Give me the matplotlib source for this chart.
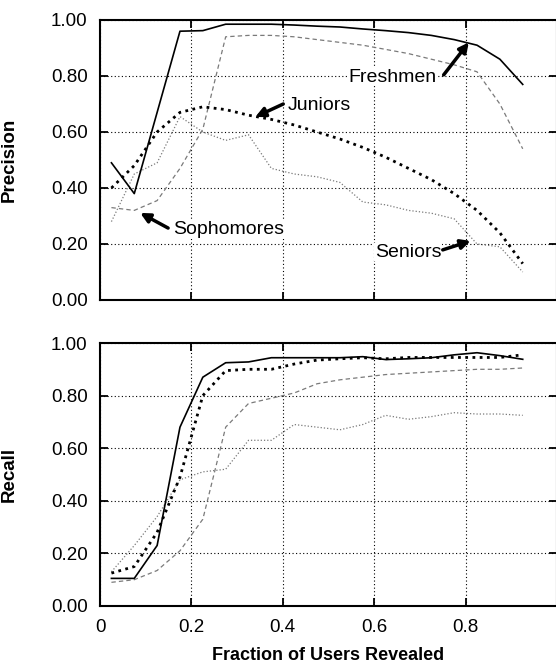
import matplotlib
matplotlib.use("Agg")
import matplotlib.pyplot as plt

plt.rcParams['font.family'] = ['Liberation Sans', 'DejaVu Sans']

# fraction of users revealed (sample points)
frac = [0.025, 0.075, 0.125, 0.175, 0.225, 0.275, 0.325, 0.375, 0.425, 0.475,
        0.525, 0.575, 0.625, 0.675, 0.725, 0.775, 0.825, 0.875, 0.925]

# precision
prec_fresh = [0.49, 0.38, 0.67, 0.96, 0.962, 0.985, 0.985, 0.985, 0.982, 0.978,
              0.975, 0.968, 0.962, 0.955, 0.945, 0.93, 0.91, 0.86, 0.77]
prec_soph = [0.33, 0.32, 0.355, 0.47, 0.61, 0.94, 0.945, 0.945, 0.94, 0.93,
             0.92, 0.91, 0.895, 0.88, 0.86, 0.84, 0.815, 0.70, 0.54]
prec_jun = [0.40, 0.48, 0.60, 0.67, 0.69, 0.68, 0.66, 0.645, 0.625, 0.60,
            0.575, 0.545, 0.51, 0.47, 0.43, 0.38, 0.32, 0.24, 0.13]
prec_sen = [0.28, 0.45, 0.49, 0.655, 0.60, 0.57, 0.59, 0.47, 0.45, 0.44,
            0.42, 0.35, 0.34, 0.32, 0.31, 0.29, 0.20, 0.19, 0.10]

# recall
rec_fresh = [0.105, 0.105, 0.23, 0.68, 0.87, 0.925, 0.928, 0.944, 0.944, 0.944,
             0.944, 0.948, 0.937, 0.94, 0.944, 0.955, 0.963, 0.952, 0.938]
rec_soph = [0.09, 0.10, 0.135, 0.21, 0.33, 0.68, 0.77, 0.79, 0.81, 0.845,
            0.86, 0.87, 0.88, 0.885, 0.89, 0.895, 0.90, 0.90, 0.905]
rec_jun = [0.125, 0.15, 0.28, 0.49, 0.80, 0.895, 0.90, 0.90, 0.92, 0.935,
           0.94, 0.944, 0.94, 0.945, 0.945, 0.945, 0.945, 0.945, 0.955]
rec_sen = [0.13, 0.23, 0.34, 0.48, 0.51, 0.52, 0.63, 0.63, 0.69, 0.68,
           0.67, 0.69, 0.725, 0.71, 0.72, 0.735, 0.73, 0.73, 0.725]

xticks = [0, 0.2, 0.4, 0.6, 0.8]
xticklabels = ['0', '0.2', '0.4', '0.6', '0.8']
yticks = [0, 0.2, 0.4, 0.6, 0.8, 1.0]

W, H = 556, 665
fig = plt.figure(figsize=(W / 100, H / 100), dpi=100)
ax1 = fig.add_axes([100 / W, (H - 300) / H, 457 / W, 280 / H])
ax2 = fig.add_axes([100 / W, (H - 606) / H, 457 / W, 263 / H])

gray = '#7a7a7a'

def style(ax):
    ax.set_xlim(0, 1)
    ax.set_ylim(0, 1)
    ax.set_xticks(xticks)
    ax.set_yticks(yticks)
    ax.set_yticklabels(['%.2f' % v for v in yticks])
    ax.grid(True, color='k', linestyle=(0, (1, 2.2)), linewidth=0.8)
    ax.tick_params(direction='in', length=6, width=1.3, top=True, right=True,
                   labelsize=13.5, pad=9)
    for s in ax.spines.values():
        s.set_linewidth(1.5)

def draw(ax, fr, so, ju, se):
    ax.plot(frac, se, color=gray, lw=0.9, linestyle=(0, (1, 1.6)))
    ax.plot(frac, so, color=gray, lw=0.9, linestyle=(0, (3.5, 2.5)))
    ax.plot(frac, ju, color='k', lw=2.0, linestyle=(0, (1, 1.6)))
    ax.plot(frac, fr, color='k', lw=1.2)

draw(ax1, prec_fresh, prec_soph, prec_jun, prec_sen)
draw(ax2, rec_fresh, rec_soph, rec_jun, rec_sen)
style(ax1)
style(ax2)
ax1.set_xticklabels([])
ax2.set_xticklabels(xticklabels)

ax1.set_ylabel('Precision', fontsize=13.5, fontweight='bold', labelpad=10)
ax2.set_ylabel('Recall', fontsize=13.5, fontweight='bold', labelpad=10)
ax2.set_xlabel('Fraction of Users Revealed', fontsize=13, fontweight='bold', labelpad=8)
ax1.yaxis.set_label_coords(-82 / 457, 0.5)
ax2.yaxis.set_label_coords(-82 / 457, 0.5)

# labels with arrows
notes = [
    ('Freshmen', (0.639, 0.796), (0.752, 0.804), (0.807, 0.92)),
    ('Juniors', (0.480, 0.696), (0.401, 0.700), (0.340, 0.654)),
    ('Sophomores', (0.281, 0.250), (0.149, 0.257), (0.088, 0.311)),
    ('Seniors', (0.674, 0.171), (0.750, 0.179), (0.811, 0.211)),
]
for name, tpos, tail, tip in notes:
    ax1.text(tpos[0], tpos[1], name, fontsize=14, ha='center', va='center',
             bbox=dict(facecolor='white', edgecolor='none', pad=0.5))
    ax1.annotate('', xy=tip, xytext=tail,
                 arrowprops=dict(arrowstyle='-|>', color='k', lw=2.5,
                                 mutation_scale=14, shrinkA=0, shrinkB=0))

fig.savefig('out.png', dpi=100)
